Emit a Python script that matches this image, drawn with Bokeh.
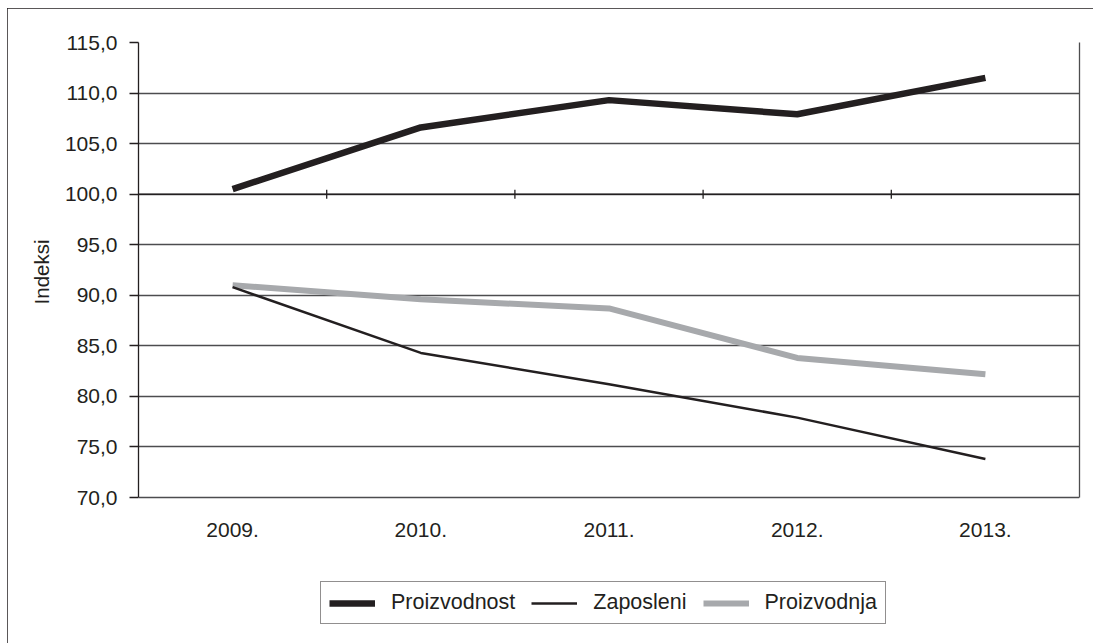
from bokeh.plotting import figure
from bokeh.models import (FactorRange, Range1d, FixedTicker, CustomJSTickFormatter,
                          Legend, LegendItem, Span, ColumnDataSource, LinearAxis, Title)
from bokeh.embed import file_html
from bokeh.resources import INLINE
import math

# ---- data ----
years = ["2009.", "2010.", "2011.", "2012.", "2013."]
proizvodnost = [100.5, 106.6, 109.3, 107.9, 111.5]
zaposleni = [90.8, 84.3, 81.2, 77.9, 73.8]
proizvodnja = [91.0, 89.6, 88.7, 83.8, 82.2]
y_ticks = [70, 75, 80, 85, 90, 95, 100, 105, 110, 115]
y_label = "Indeksi"
names = ["Proizvodnost", "Zaposleni", "Proizvodnja"]

FONT = "Liberation Sans"
INK = "#231f20"
GREY = "#a7a9ac"
FS = "21px"

# layout (pixels)
W, H = 1086, 635
B_LEFT, B_TOP, B_RIGHT, B_BOTTOM = 131, 34, 14, 13
PLOT_H = 455                      # height of the 70..115 band
frame_h = H - B_TOP - B_BOTTOM
y_lo, y_hi = y_ticks[0], y_ticks[-1]
y_start = y_hi - frame_h * (y_hi - y_lo) / PLOT_H   # extra room below for legend

p = figure(width=W, height=H, output_backend="svg", toolbar_location=None,
           x_range=FactorRange(*years, range_padding=0, factor_padding=0),
           y_range=Range1d(y_start, y_hi),
           min_border_left=B_LEFT, min_border_top=B_TOP,
           min_border_right=B_RIGHT, min_border_bottom=B_BOTTOM)
p.styles = {"outline": "1px solid #231f20", "outline-offset": "-1px",
            "margin-left": "7px", "margin-top": "8px"}
p.background_fill_color = "white"
p.border_fill_color = "white"
p.outline_line_color = None

# y axis
p.yaxis.bounds = (y_lo, y_hi)
p.yaxis.ticker = FixedTicker(ticks=y_ticks)
p.yaxis.formatter = CustomJSTickFormatter(code="return tick.toFixed(1).replace('.', ',');")
p.yaxis.major_label_text_font = FONT
p.yaxis.major_label_text_font_size = FS
p.yaxis.major_label_text_color = INK
p.yaxis.major_label_standoff = 12
p.yaxis.major_tick_in = 0
p.yaxis.major_tick_out = 9
p.yaxis.minor_tick_line_color = None
p.yaxis.axis_line_color = INK
p.yaxis.axis_line_width = 1.3
p.yaxis.major_tick_line_color = INK
p.yaxis.major_tick_line_width = 1.3

# y axis title, centred on the 70..115 band
p.add_layout(Title(text=y_label, align="right", offset=197, standoff=18,
                   text_font=FONT, text_font_size="20.5px", text_font_style="normal",
                   text_color=INK), "left")

# right border of plot area
right = LinearAxis(bounds=(y_lo, y_hi), ticker=FixedTicker(ticks=[]),
                   axis_line_color="#4d4d4f", axis_line_width=1.3,
                   major_tick_line_color=None, minor_tick_line_color=None)
p.add_layout(right, "right")

# x axis (category labels under the 70 line)
p.xaxis.fixed_location = y_lo
p.xaxis.axis_line_color = None
p.xaxis.major_tick_line_color = None
p.xaxis.major_tick_in = 0
p.xaxis.major_tick_out = 0
p.xaxis.major_label_standoff = 25
p.xaxis.major_label_text_font = FONT
p.xaxis.major_label_text_font_size = FS
p.xaxis.major_label_text_color = INK

p.xgrid.grid_line_color = None
p.ygrid.ticker = FixedTicker(ticks=y_ticks)
p.ygrid.grid_line_color = "#4d4d4f"
p.ygrid.grid_line_width = 1.3

# horizontal axis crossing at 100 with category boundary tick marks
p.add_layout(Span(location=100, dimension="width", line_color=INK, line_width=1.5))
bounds = [(y, 0.5) for y in years[:-1]]
p.scatter(x=bounds, y=[100] * len(bounds), marker="dash", size=9, angle=math.pi / 2,
          line_color=INK, line_width=1.3)

# series
src = ColumnDataSource(dict(x=years, a=proizvodnost, b=zaposleni, c=proizvodnja))
r_a = p.line("x", "a", source=src, line_color=INK, line_width=6.5, line_join="round")
r_c = p.line("x", "c", source=src, line_color=GREY, line_width=6, line_join="round")
r_b = p.line("x", "b", source=src, line_color=INK, line_width=2.5, line_join="round")

legend = Legend(items=[LegendItem(label=names[0], renderers=[r_a]),
                       LegendItem(label=names[1], renderers=[r_b]),
                       LegendItem(label=names[2], renderers=[r_c])],
                orientation="horizontal", location=(182, 6),
                glyph_width=46, label_standoff=16, spacing=16, padding=8,
                label_text_font=FONT, label_text_font_size="21.5px", label_text_color=INK,
                border_line_color=INK, border_line_width=1.3,
                background_fill_color="white", background_fill_alpha=1)
p.add_layout(legend, "center")

open("out.html", "w").write(file_html(p, INLINE))
